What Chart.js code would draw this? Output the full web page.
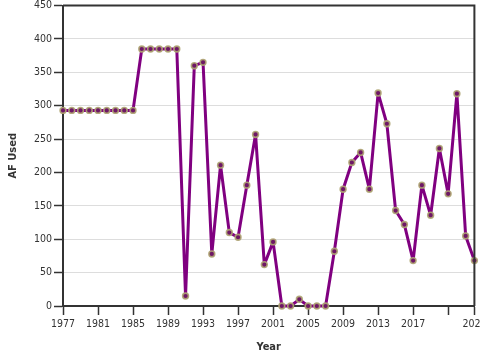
<!DOCTYPE html>
<html>
<head>
<meta charset="utf-8">
<script src="https://cdn.jsdelivr.net/npm/chart.js@4/dist/chart.umd.min.js"></script>
<style>
html,body{margin:0;padding:0;background:#fff;overflow:hidden;}
canvas{display:block;}
</style>
</head>
<body>
<canvas id="c" width="480" height="360"></canvas>
<script>
const years = [1977,1978,1979,1980,1981,1982,1983,1984,1985,1986,1987,1988,1989,1990,
  1991,1992,1993,1994,1995,1996,1997,1998,1999,2000,2001,2002,2003,2004,2005,2006,2007,
  2008,2009,2010,2011,2012,2013,2014,2015,2016,2017,2018,2019,2020,2021,2022,2023,2024];
const afUsed = [293,293,293,293,293,293,293,293,293,385,385,385,385,385,
  15,360,365,78,211,110,103,181,257,62,96,0,0,10,0,0,0,
  82,175,215,230,175,319,273,143,122,68,181,136,236,168,318,105,68];
const xTickValues = [1977,1981,1985,1989,1993,1997,2001,2005,2009,2013,2017,2021,2024];
const xTickHidden = [2021];
const yTickValues = [0,50,100,150,200,250,300,350,400,450];

const FONT = "'DejaVu Sans Condensed','DejaVu Sans',Verdana,sans-serif";

const frame = {
  id: 'frame',
  afterDraw(chart) {
    const a = chart.chartArea, ctx = chart.ctx;
    ctx.save();
    ctx.strokeStyle = '#333';
    ctx.lineWidth = 2;
    ctx.beginPath();
    ctx.moveTo(a.left, a.top); ctx.lineTo(a.right, a.top); ctx.lineTo(a.right, a.bottom);
    ctx.stroke();
    ctx.restore();
  }
};

new Chart(document.getElementById('c'), {
  type: 'line',
  data: {
    datasets: [{
      data: years.map((y, i) => ({x: y, y: afUsed[i]})),
      borderColor: '#800080',
      borderWidth: 3,
      borderJoinStyle: 'round',
      borderCapStyle: 'round',
      pointRadius: 2.9,
      pointBorderWidth: 1.6,
      pointBackgroundColor: '#6e1766',
      pointBorderColor: 'rgba(175,165,115,0.9)',
      tension: 0,
      clip: false
    }]
  },
  options: {
    responsive: false,
    animation: false,
    devicePixelRatio: 1,
    layout: {padding: {top: 4, right: 5, bottom: 0, left: 0}},
    plugins: {legend: {display: false}, tooltip: {enabled: false}},
    scales: {
      x: {
        type: 'linear',
        min: 1977, max: 2024,
        afterBuildTicks: s => { s.ticks = xTickValues.map(v => ({value: v})); },
        afterFit: s => { s.height = 54; s.paddingLeft = 0; s.paddingRight = 0; },
        ticks: {
          autoSkip: false, maxRotation: 0, padding: 3,
          color: '#333', font: {family: FONT, size: 10.5},
          callback: v => xTickHidden.includes(v) ? '' : String(v)
        },
        grid: {drawOnChartArea: false, tickLength: 9, tickColor: '#333', tickWidth: 1.5},
        border: {color: '#333', width: 2},
        title: {display: true, text: 'Year', color: '#333', font: {family: FONT, size: 11, weight: 'bold'}, padding: {top: 0, bottom: 6}}
      },
      y: {
        min: 0, max: 450,
        afterBuildTicks: s => { s.ticks = yTickValues.map(v => ({value: v})); },
        afterFit: s => { s.width = 63; s.paddingTop = 0; s.paddingBottom = 0; },
        ticks: {padding: 2, color: '#333', font: {family: FONT, size: 10.5}},
        grid: {color: '#ddd', lineWidth: 1, tickLength: 9, tickColor: '#333', tickWidth: 1.5},
        border: {color: '#333', width: 2},
        title: {display: true, text: 'AF Used', color: '#333', font: {family: FONT, size: 11, weight: 'bold'}, padding: {top: 7, bottom: 0}}
      }
    }
  },
  plugins: [frame]
});
</script>
</body>
</html>
